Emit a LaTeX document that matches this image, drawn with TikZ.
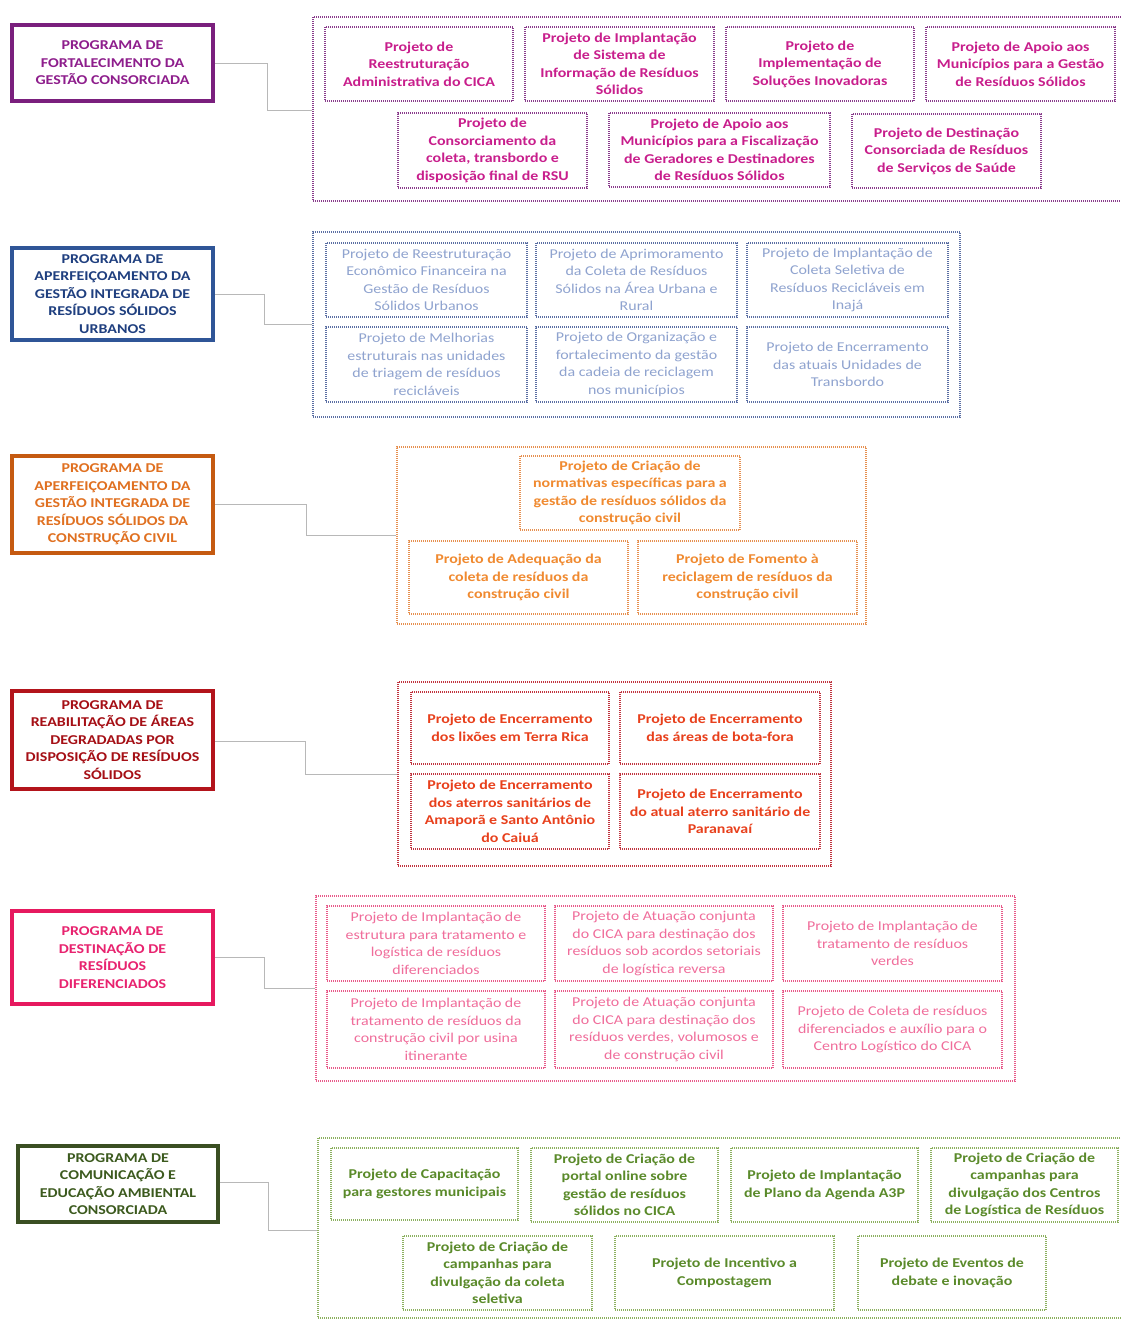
\documentclass[tikz,border=0pt]{standalone}
\usepackage{fontspec}
\setmainfont[FakeStretch=1.18]{Carlito}
\usetikzlibrary{positioning}
\definecolor{purB}{HTML}{7A1F7D}\definecolor{purT}{HTML}{8E1E8C}
\definecolor{magT}{HTML}{C81E8C}\definecolor{magD}{HTML}{8A3C8C}
\definecolor{bluB}{HTML}{2F5597}\definecolor{bluT}{HTML}{1F3F7F}
\definecolor{bluP}{HTML}{8FA3CF}\definecolor{bluD}{HTML}{5B6FA3}
\definecolor{oraB}{HTML}{C55A11}\definecolor{oraT}{HTML}{E07020}
\definecolor{oraP}{HTML}{F08A30}\definecolor{oraD}{HTML}{E69050}
\definecolor{redB}{HTML}{B3141B}\definecolor{redT}{HTML}{A50F15}
\definecolor{redP}{HTML}{E8401C}\definecolor{redD}{HTML}{C0343F}
\definecolor{pnkB}{HTML}{E6195F}\definecolor{pnkT}{HTML}{E8236F}
\definecolor{pnkP}{HTML}{F06D9B}\definecolor{pnkD}{HTML}{E85A8A}
\definecolor{grnB}{HTML}{3A4F22}\definecolor{grnT}{HTML}{3C5A1E}
\definecolor{grnP}{HTML}{5A8A2A}\definecolor{grnD}{HTML}{8CB060}
\newcommand\pbox[7]{\node[#7, minimum width={(#4-#2)*1pt}, minimum height={(#5-#3)*1pt}] (#1) at ({(#2+#4)/2},{(#3+#5)/2}) {#6};}
\begin{document}
\begin{tikzpicture}[x=1pt,y=-1pt,
  base/.style={rectangle, inner sep=0pt, align=center},
  prog/.style={base, line width=3.5pt, font=\fontsize{13.5}{17.5}\selectfont\bfseries},
  grp/.style={base, line width=1.2pt, dash pattern=on 1pt off 1pt},
  proj/.style={base, line width=1.2pt, dash pattern=on 1pt off 1pt, font=\fontsize{13.5}{17.5}\selectfont},
  conn/.style={draw=black!28, line width=0.9pt},
  pur/.style={prog, draw=purB, text=purT},
  magg/.style={grp, draw=magD},
  mag/.style={proj, draw=magD, text=magT, font=\fontsize{13.5}{17.5}\selectfont\bfseries},
  blu/.style={prog, draw=bluB, text=bluT},
  blug/.style={grp, draw=bluD},
  bluproj/.style={proj, draw=bluD, text=bluP},
  ora/.style={prog, draw=oraB, text=oraT},
  orag/.style={grp, draw=oraD},
  oraproj/.style={proj, draw=oraD, text=oraP, font=\fontsize{13.5}{17.5}\selectfont\bfseries},
  rd/.style={prog, draw=redB, text=redT},
  rdg/.style={grp, draw=redD},
  rdproj/.style={proj, draw=redD, text=redP, font=\fontsize{13.5}{17.5}\selectfont\bfseries},
  pk/.style={prog, draw=pnkB, text=pnkT},
  pkg/.style={grp, draw=pnkD},
  pkproj/.style={proj, draw=pnkD, text=pnkP},
  gn/.style={prog, draw=grnB, text=grnT},
  gng/.style={grp, draw=grnD},
  gnproj/.style={proj, draw=grnD, text=grnP, font=\fontsize{13.5}{17.5}\selectfont\bfseries},
]
\fill[white] (0,0) rectangle (1121,1320);
\useasboundingbox (0,0) rectangle (1121,1320);

% ---------- Section 1 ----------
\pbox{g1}{313}{17}{1126}{201}{}{magg}
\pbox{p1}{12}{25}{213}{101}{PROGRAMA DE\\FORTALECIMENTO DA\\GESTÃO CONSORCIADA}{pur}
\pbox{a1}{325}{27}{513}{101}{Projeto de\\Reestruturação\\Administrativa do CICA}{mag}
\pbox{a2}{525}{27}{714}{101}{Projeto de Implantação\\de Sistema de\\Informação de Resíduos\\Sólidos}{mag}
\pbox{a3}{726}{27}{914}{101}{Projeto de\\Implementação de\\Soluções Inovadoras}{mag}
\pbox{a4}{926}{27}{1115}{101}{Projeto de Apoio aos\\Municípios para a Gestão\\de Resíduos Sólidos}{mag}
\pbox{a5}{398}{113}{587}{188}{Projeto de\\Consorciamento da\\coleta, transbordo e\\disposição final de RSU}{mag}
\pbox{a6}{609}{113}{830}{187}{Projeto de Apoio aos\\Municípios para a Fiscalização\\de Geradores e Destinadores\\de Resíduos Sólidos}{mag}
\pbox{a7}{852}{114}{1041}{188}{Projeto de Destinação\\Consorciada de Resíduos\\de Serviços de Saúde}{mag}
\draw[conn] (p1.east |- 0,63) -- ++(53,0) |- (g1.west |- 0,110);

% ---------- Section 2 ----------
\pbox{g2}{313}{232}{960}{417}{}{blug}
\pbox{p2}{12}{248}{213}{340}{PROGRAMA DE\\APERFEIÇOAMENTO DA\\GESTÃO INTEGRADA DE\\RESÍDUOS SÓLIDOS\\URBANOS}{blu}
\pbox{b1}{326}{243}{527}{317}{Projeto de Reestruturação\\Econômico Financeira na\\Gestão de Resíduos\\Sólidos Urbanos}{bluproj}
\pbox{b2}{536}{243}{737}{317}{Projeto de Aprimoramento\\da Coleta de Resíduos\\Sólidos na Área Urbana e\\Rural}{bluproj}
\pbox{b3}{747}{243}{948}{317}{Projeto de Implantação de\\Coleta Seletiva de\\Resíduos Recicláveis em\\Inajá}{bluproj}
\pbox{b4}{326}{327}{527}{402}{Projeto de Melhorias\\estruturais nas unidades\\de triagem de resíduos\\recicláveis}{bluproj}
\pbox{b5}{536}{327}{737}{402}{Projeto de Organização e\\fortalecimento da gestão\\da cadeia de reciclagem\\nos municípios}{bluproj}
\pbox{b6}{747}{327}{948}{402}{Projeto de Encerramento\\das atuais Unidades de\\Transbordo}{bluproj}
\draw[conn] (p2.east |- 0,294) -- ++(50,0) |- (g2.west |- 0,324);

% ---------- Section 3 ----------
\pbox{g3}{397}{447}{866}{624}{}{orag}
\pbox{p3}{12}{456}{213}{553}{PROGRAMA DE\\APERFEIÇOAMENTO DA\\GESTÃO INTEGRADA DE\\RESÍDUOS SÓLIDOS DA\\CONSTRUÇÃO CIVIL}{ora}
\pbox{c1}{520}{456}{740}{530}{Projeto de Criação de\\normativas específicas para a\\gestão de resíduos sólidos da\\construção civil}{oraproj}
\pbox{c2}{409}{541}{628}{614}{Projeto de Adequação da\\coleta de resíduos da\\construção civil}{oraproj}
\pbox{c3}{638}{541}{857}{614}{Projeto de Fomento à\\reciclagem de resíduos da\\construção civil}{oraproj}
\draw[conn] (p3.east |- 0,504) -- ++(92,0) |- (g3.west |- 0,535);

% ---------- Section 4 ----------
\pbox{g4}{398}{682}{831}{866}{}{rdg}
\pbox{p4}{12}{691}{213}{789}{PROGRAMA DE\\REABILITAÇÃO DE ÁREAS\\DEGRADADAS POR\\DISPOSIÇÃO DE RESÍDUOS\\SÓLIDOS}{rd}
\pbox{d1}{411}{692}{609}{764}{Projeto de Encerramento\\dos lixões em Terra Rica}{rdproj}
\pbox{d2}{620}{692}{820}{764}{Projeto de Encerramento\\das áreas de bota-fora}{rdproj}
\pbox{d3}{411}{774}{609}{849}{Projeto de Encerramento\\dos aterros sanitários de\\Amaporã e Santo Antônio\\do Caiuá}{rdproj}
\pbox{d4}{620}{774}{820}{849}{Projeto de Encerramento\\do atual aterro sanitário de\\Paranavaí}{rdproj}
\draw[conn] (p4.east |- 0,741) -- ++(91,0) |- (g4.west |- 0,774);

% ---------- Section 5 ----------
\pbox{g5}{316}{896}{1015}{1081}{}{pkg}
\pbox{p5}{12}{911}{213}{1004}{PROGRAMA DE\\DESTINAÇÃO DE\\RESÍDUOS\\DIFERENCIADOS}{pk}
\pbox{e1}{327}{906}{545}{981}{Projeto de Implantação de\\estrutura para tratamento e\\logística de resíduos\\diferenciados}{pkproj}
\pbox{e2}{555}{906}{773}{981}{Projeto de Atuação conjunta\\do CICA para destinação dos\\resíduos sob acordos setoriais\\de logística reversa}{pkproj}
\pbox{e3}{783}{906}{1002}{981}{Projeto de Implantação de\\tratamento de resíduos\\verdes}{pkproj}
\pbox{e4}{327}{991}{545}{1068}{Projeto de Implantação de\\tratamento de resíduos da\\construção civil por usina\\itinerante}{pkproj}
\pbox{e5}{555}{991}{773}{1068}{Projeto de Atuação conjunta\\do CICA para destinação dos\\resíduos verdes, volumosos e\\de construção civil}{pkproj}
\pbox{e6}{783}{991}{1002}{1068}{Projeto de Coleta de resíduos\\diferenciados e auxílio para o\\Centro Logístico do CICA}{pkproj}
\draw[conn] (p5.east |- 0,957) -- ++(50,0) |- (g5.west |- 0,988);

% ---------- Section 6 ----------
\pbox{g6}{318}{1138}{1126}{1318}{}{gng}
\pbox{p6}{18}{1146}{218}{1222}{PROGRAMA DE\\COMUNICAÇÃO E\\EDUCAÇÃO AMBIENTAL\\CONSORCIADA}{gn}
\pbox{f1}{331}{1148}{518}{1220}{Projeto de Capacitação\\para gestores municipais}{gnproj}
\pbox{f2}{531}{1148}{718}{1222}{Projeto de Criação de\\portal online sobre\\gestão de resíduos\\sólidos no CICA}{gnproj}
\pbox{f3}{731}{1148}{918}{1222}{Projeto de Implantação\\de Plano da Agenda A3P}{gnproj}
\pbox{f4}{931}{1148}{1118}{1222}{Projeto de Criação de\\campanhas para\\divulgação dos Centros\\de Logística de Resíduos}{gnproj}
\pbox{f5}{403}{1236}{592}{1310}{Projeto de Criação de\\campanhas para\\divulgação da coleta\\seletiva}{gnproj}
\pbox{f6}{615}{1236}{834}{1310}{Projeto de Incentivo a\\Compostagem}{gnproj}
\pbox{f7}{858}{1236}{1046}{1310}{Projeto de Eventos de\\debate e inovação}{gnproj}
\draw[conn] (p6.east |- 0,1182) -- ++(49,0) |- (g6.west |- 0,1230);
\end{tikzpicture}
\end{document}
